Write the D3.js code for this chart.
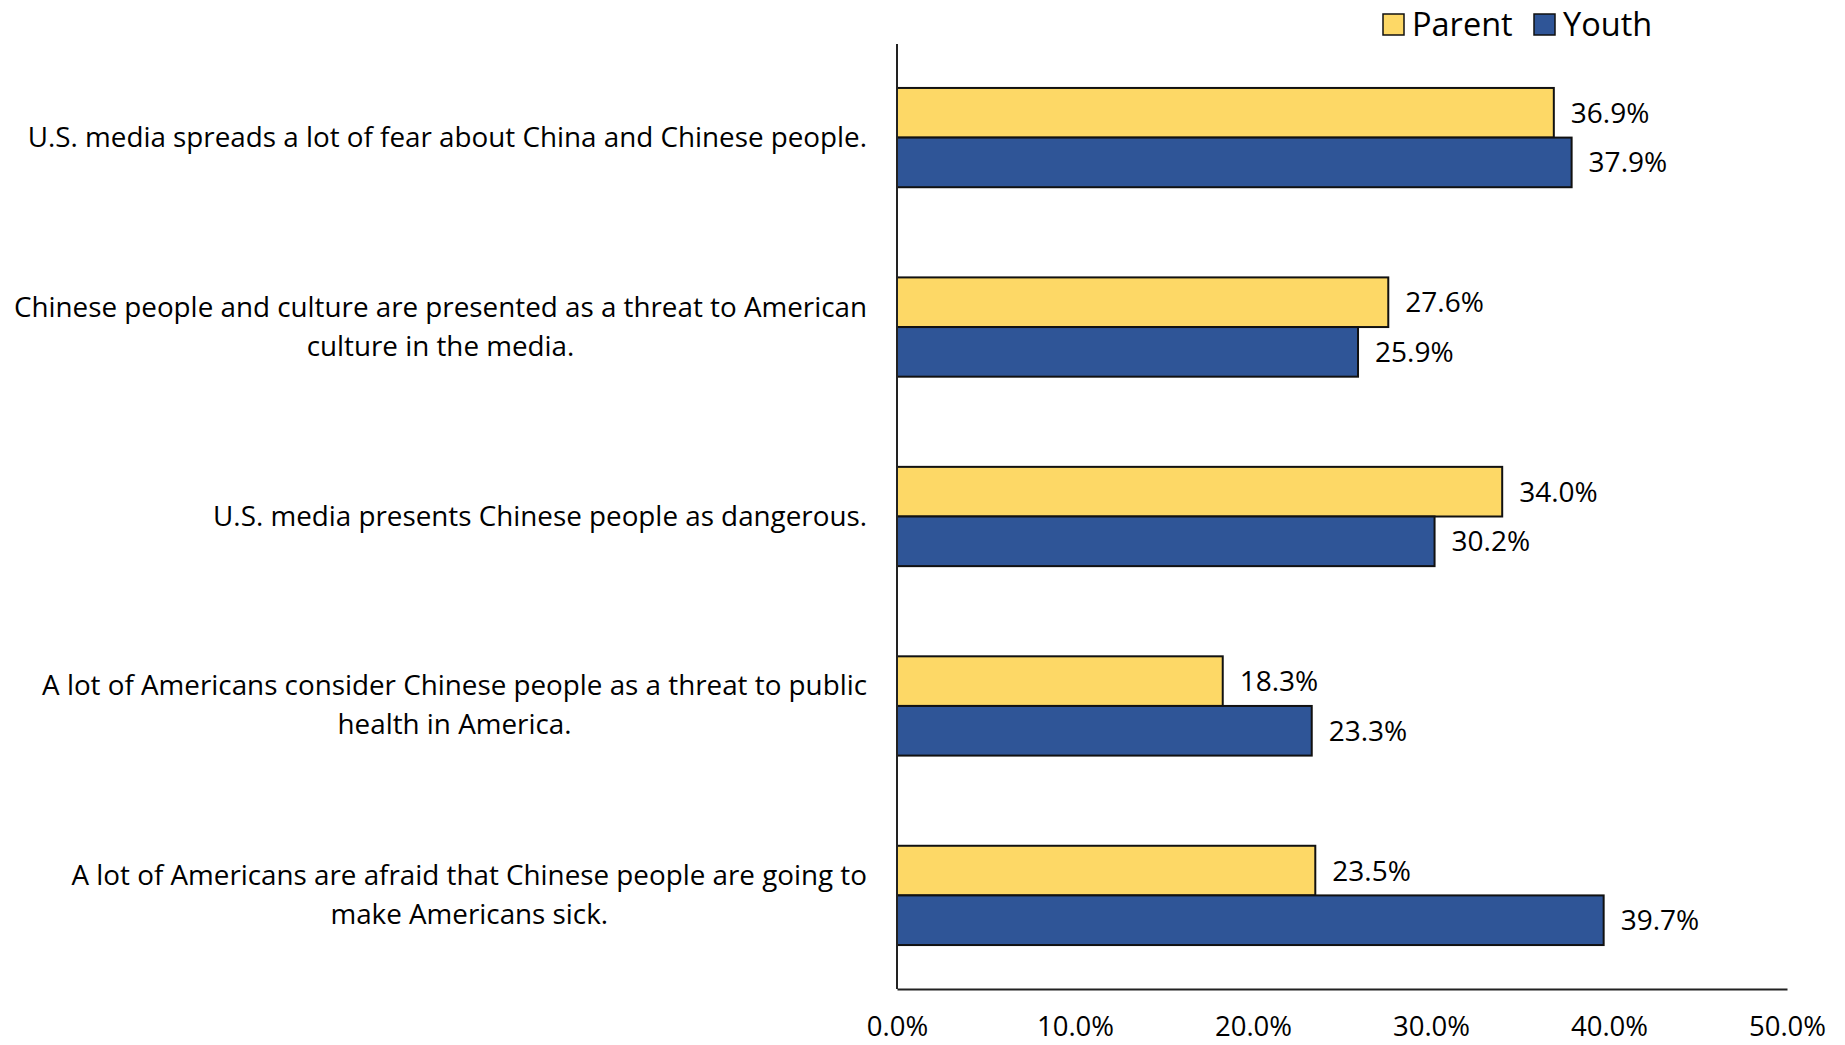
<!DOCTYPE html>
<html>
<head>
<meta charset="utf-8">
<script src="https://cdn.jsdelivr.net/npm/d3@7"></script>
<style>
  html, body { margin: 0; padding: 0; background: #fff; }
  svg { display: block; font-family: "Open Sans", "Noto Sans", sans-serif; }
</style>
</head>
<body>
<svg id="chart" width="1845" height="1045"></svg>
<script>
// categories, one array of lines per label
const categories = [
  ["U.S. media spreads a lot of fear about China and Chinese people."],
  ["Chinese people and culture are presented as a threat to American", "culture in the media."],
  ["U.S. media presents Chinese people as dangerous."],
  ["A lot of Americans consider Chinese people as a threat to public", "health in America."],
  ["A lot of Americans are afraid that Chinese people are going to", "make Americans sick."]
];
const seriesNames = ["Parent", "Youth"];
const parentValues = [36.9, 27.6, 34.0, 18.3, 23.5];
const youthValues = [37.9, 25.9, 30.2, 23.3, 39.7];
const xTicks = [0, 10, 20, 30, 40, 50];
const colors = { Parent: "#FDD866", Youth: "#2F5597" };

const rows = categories.map((c, i) => ({ key: i, lines: c, Parent: parentValues[i], Youth: youthValues[i] }));

const svg = d3.select('#chart');
const plotL = 897, plotR = 1787, plotT = 44, plotB = 989;

const x = d3.scaleLinear().domain([0, 50]).range([plotL, plotR]);
const y = d3.scaleBand().domain(rows.map(d => d.key)).range([plotT, plotB]).paddingInner(0.476).paddingOuter(0.232);
const ySub = d3.scaleBand().domain(seriesNames).range([0, y.bandwidth()]);

// bars
const g = svg.append('g');
const groups = g.selectAll('g.cat').data(rows).join('g')
  .attr('class', 'cat')
  .attr('transform', d => `translate(0,${y(d.key)})`);

groups.selectAll('rect').data(d => seriesNames.map(s => ({ s, v: d[s] }))).join('rect')
  .attr('x', x(0))
  .attr('y', d => ySub(d.s))
  .attr('width', d => x(d.v) - x(0))
  .attr('height', ySub.bandwidth())
  .attr('fill', d => colors[d.s])
  .attr('stroke', '#111')
  .attr('stroke-width', 2);

groups.selectAll('text.val').data(d => seriesNames.map(s => ({ s, v: d[s] }))).join('text')
  .attr('class', 'val')
  .attr('x', d => x(d.v) + 17)
  .attr('y', d => ySub(d.s) + ySub.bandwidth() / 2)
  .attr('dy', '0.36em')
  .style('font-size', '28px')
  .attr('fill', '#000')
  .text(d => d.v.toFixed(1) + '%');

// category labels: first line right-aligned, the rest centred under it
const lineH = 39, labelR = 867;
groups.each(function (d) {
  const t = d3.select(this).append('text')
    .style('font-size', '27.8px')
    .attr('fill', '#000');
  const n = d.lines.length;
  const spans = d.lines.map((ln, i) => t.append('tspan')
    .attr('y', y.bandwidth() / 2 - 1 + (i - (n - 1) / 2) * lineH)
    .attr('dy', '0.36em')
    .text(ln));
  const w0 = spans[0].node().getComputedTextLength();
  const cx = labelR - w0 / 2;
  spans.forEach(sp => sp.attr('x', cx).attr('text-anchor', 'middle'));
});

// axes
const xAxis = d3.axisBottom(x).tickValues(xTicks).tickSize(0).tickPadding(27).tickFormat(v => v.toFixed(1) + '%');
const ax = svg.append('g').attr('transform', `translate(0,${plotB})`).call(xAxis);
ax.select('.domain').attr('stroke', '#222').attr('stroke-width', 2);
ax.selectAll('text').style('font-size', '27.5px').style('font-family', '"Open Sans", sans-serif').attr('fill', '#000');

svg.append('line')
  .attr('x1', plotL).attr('x2', plotL)
  .attr('y1', plotT).attr('y2', plotB)
  .attr('stroke', '#222').attr('stroke-width', 2);

// legend
const legendX = [1383, 1534];
const leg = svg.append('g');
seriesNames.forEach((s, i) => {
  leg.append('rect')
    .attr('x', legendX[i]).attr('y', 14)
    .attr('width', 21).attr('height', 21)
    .attr('fill', colors[s]).attr('stroke', '#111').attr('stroke-width', 1.5);
  leg.append('text')
    .attr('x', legendX[i] + 29).attr('y', 24)
    .attr('dy', '0.36em')
    .style('font-size', '32.5px')
    .attr('fill', '#000')
    .text(s);
});
</script>
</body>
</html>
